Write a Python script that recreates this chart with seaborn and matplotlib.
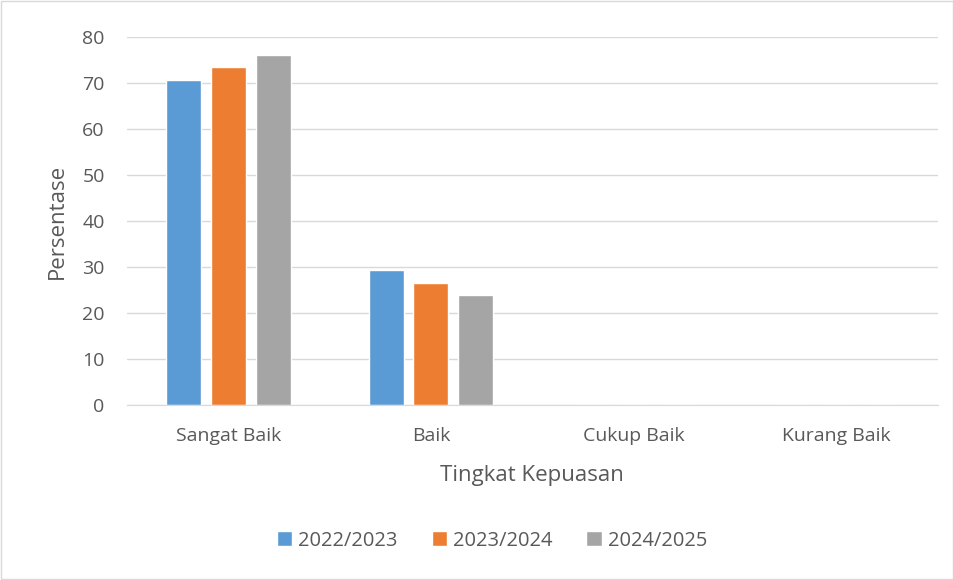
import numpy as np
import pandas as pd
import matplotlib
matplotlib.use("Agg")
import matplotlib.pyplot as plt
import seaborn as sns

categories = ["Sangat Baik", "Baik", "Cukup Baik", "Kurang Baik"]
years = ["2022/2023", "2023/2024", "2024/2025"]
v_2022 = [70.6, 29.4, 0, 0]
v_2023 = [73.5, 26.5, 0, 0]
v_2024 = [76.1, 23.9, 0, 0]
colors = ["#5B9BD5", "#ED7D31", "#A5A5A5"]

df = pd.DataFrame({
    "Tingkat Kepuasan": categories * 3,
    "Tahun": [y for y in years for _ in categories],
    "Persentase": v_2022 + v_2023 + v_2024,
})

sns.set_style("white")
plt.rcParams["font.family"] = ["Open Sans", "DejaVu Sans"]
txt = "#595959"

fig = plt.figure(figsize=(9.54, 5.8), dpi=100)
ax = fig.add_axes([0.133, 0.302, 0.85, 0.634])

sns.barplot(data=df, x="Tingkat Kepuasan", y="Persentase", hue="Tahun",
            palette=colors, width=0.665, gap=0.22, ax=ax, saturation=1,
            legend=True)

ax.set_ylim(0, 80)
ax.set_yticks(range(0, 81, 10))
ax.yaxis.grid(True, color="#D9D9D9", linewidth=1)
ax.set_axisbelow(True)
for s in ["top", "right", "left"]:
    ax.spines[s].set_visible(False)
ax.spines["bottom"].set_color("#D9D9D9")
ax.tick_params(axis="both", length=0, labelsize=14, colors=txt)
ax.tick_params(axis="x", pad=16)
ax.tick_params(axis="y", pad=16)
ax.set_xlabel("Tingkat Kepuasan", fontsize=16, color=txt, labelpad=14)
ax.set_ylabel("Persentase", fontsize=16, color=txt, labelpad=10)

ax.legend(loc="center", bbox_to_anchor=(0.45, -0.37),
          ncol=3, frameon=False, fontsize=14.5, labelcolor=txt,
          handlelength=0.75, handleheight=0.75, handletextpad=0.3, columnspacing=1.7)

fig.patches.append(plt.Rectangle((0.001, 0.001), 0.998, 0.998, transform=fig.transFigure,
                                 fill=False, edgecolor="#D9D9D9", linewidth=1))

fig.savefig("out.png", dpi=100, facecolor="white")
